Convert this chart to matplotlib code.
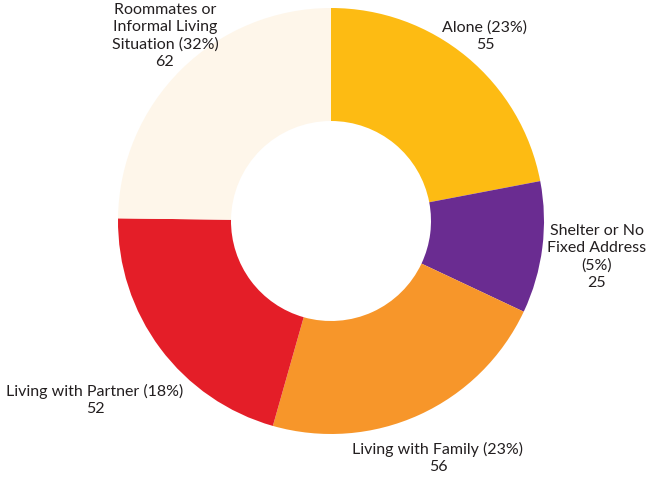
import matplotlib.pyplot as plt

# data
labels = ["Alone (23%)", "Shelter or No\nFixed Address\n(5%)", "Living with Family (23%)",
          "Living with Partner (18%)", "Roommates or\nInformal Living\nSituation (32%)"]
values = [55, 25, 56, 52, 62]
colors = ["#FDBB13", "#6A2C91", "#F7962A", "#E41E28", "#FEF6EA"]

# label anchor positions (pixel coords, y from top)
label_pos = [(485, 36), (597, 257), (438, 458), (95, 400), (165, 36)]

plt.rcParams['font.family'] = ['Lato', 'DejaVu Sans']

fig = plt.figure(figsize=(6.49, 4.80), dpi=100)
ax = fig.add_axes([0, 0, 1, 1])

cx, cy, r = 331, 480 - 221, 213
ax.pie(values, colors=colors, startangle=90, counterclock=False,
       center=(cx, cy), radius=r,
       wedgeprops=dict(width=r - 100, linewidth=0))

for lab, val, (x, y) in zip(labels, values, label_pos):
    ax.text(x, 480 - y, lab + "\n" + str(val), ha="center", va="center",
            fontsize=11.5, color="#231F20", linespacing=1.3)

ax.set_xlim(0, 649)
ax.set_ylim(0, 480)
ax.set_aspect("equal")
ax.axis("off")

fig.savefig("out.png", dpi=100)
